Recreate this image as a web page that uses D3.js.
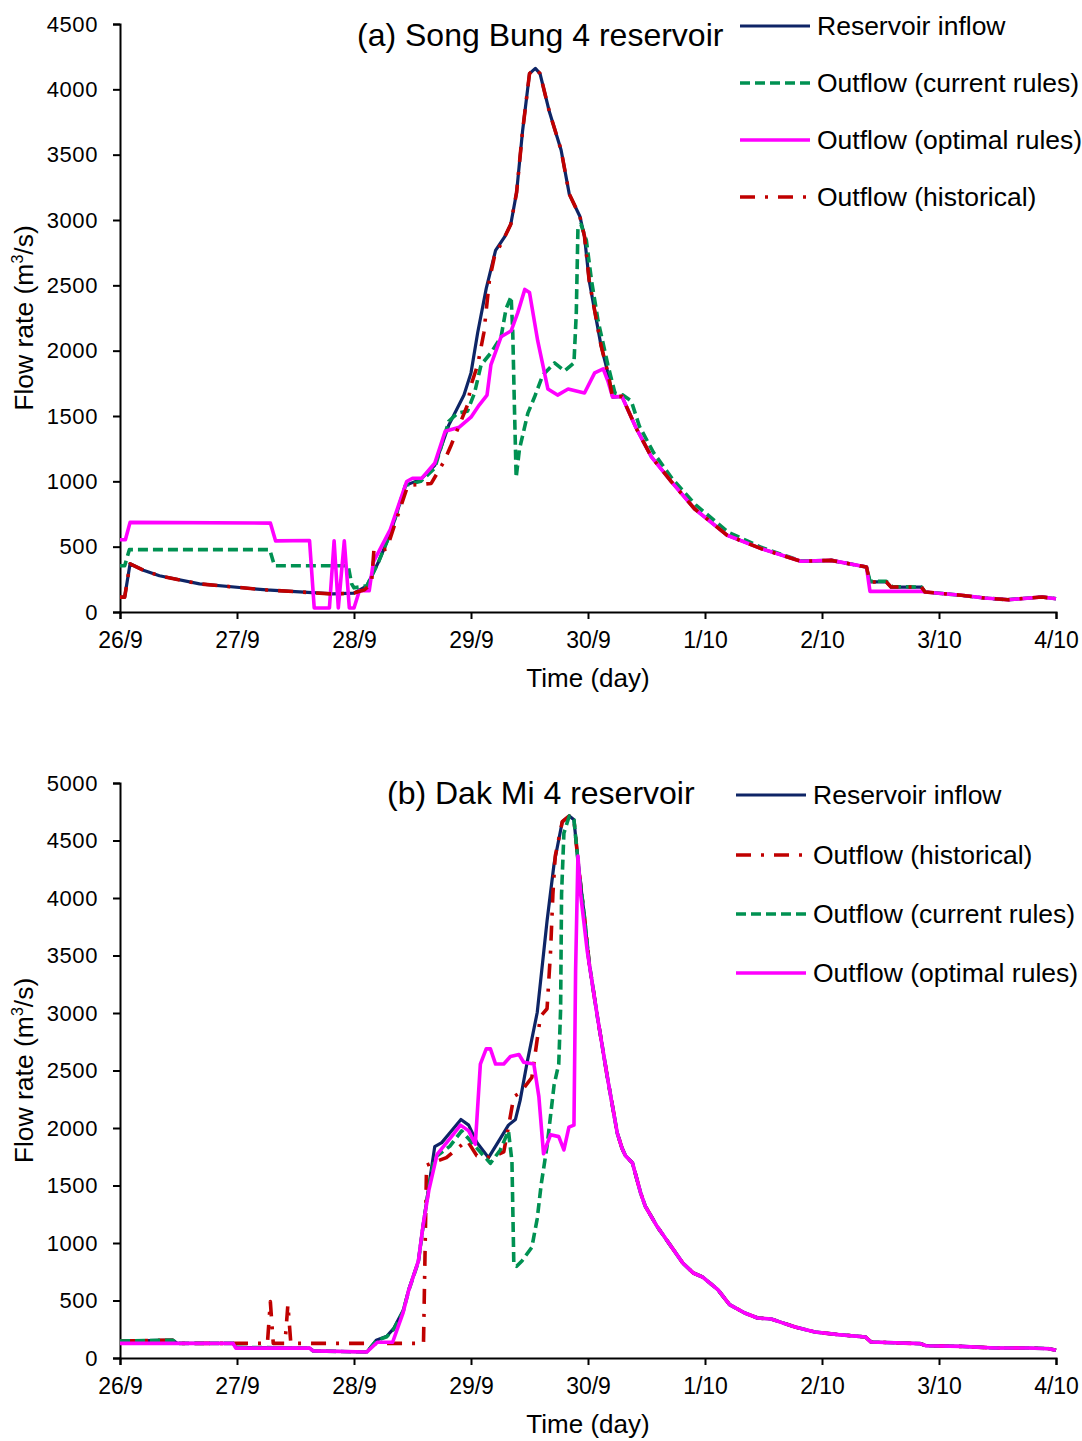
<!DOCTYPE html>
<html><head><meta charset="utf-8">
<script src="https://cdn.jsdelivr.net/npm/d3@7"></script>
<style>
body{margin:0;background:#fff;}
text{font-family:"Liberation Sans",Arial,sans-serif;fill:#000;}
</style></head>
<body><svg id="c" width="1082" height="1441"></svg>
<script>
// ---------- shared ----------
const dayLabels = ["26/9","27/9","28/9","29/9","30/9","1/10","2/10","3/10","4/10"];
const dayTicks = [0,1,2,3,4,5,6,7,8];

// ---------- (a) Song Bung 4 ----------
const sbInflowT = [0,0.04,0.086,0.2,0.337,0.68,1.25,1.82,2.0,2.11,2.21,2.31,2.44,2.57,2.69,2.81,2.94,3.0,3.057,3.13,3.21,3.29,3.34,3.39,3.44,3.5,3.55,3.59,3.67,3.77,3.84,3.93,3.97,4.01,4.06,4.11,4.17,4.21,4.29,4.41,4.54,4.71,4.91,5.19,5.48,5.82,6.08,6.38,6.41,6.55,6.59,6.85,6.88,7.19,7.39,7.59,7.88,8.0];
const sbInflowV = [114,114,369,320,277,215,169,138,145,200,384,600,969,1015,1122,1430,1660,1830,2137,2475,2767,2875,2967,3213,3675,4120,4160,4120,3828,3536,3198,3029,2875,2537,2291,2045,1830,1645,1650,1410,1190,1000,790,587,485,388,395,344,230,230,191,191,153,128,107,94,115,102];

const sbCurT = [0,0.04,0.08,1.28,1.32,1.95,1.98,2.0,2.11,2.21,2.31,2.44,2.57,2.69,2.81,2.886,2.97,3.03,3.086,3.17,3.257,3.3,3.343,3.357,3.37,3.386,3.414,3.486,3.543,3.614,3.714,3.8,3.88,3.9,3.914,3.94,3.986,4.03,4.086,4.17,4.23,4.3,4.37,4.44,4.56,4.72,4.92,5.2,5.48,5.82,6.08,6.38,6.41,6.55,6.6,6.85,6.88,7.19,7.39,7.59,7.88,8.0];
const sbCurV = [354,354,477,477,354,354,215,185,200,384,600,969,1000,1100,1460,1522,1537,1676,1891,1983,2106,2322,2414,2137,1614,1030,1245,1522,1645,1814,1906,1845,1906,2291,2937,2967,2844,2537,2229,1891,1676,1660,1614,1420,1220,1020,820,610,495,390,395,344,235,235,195,191,153,128,107,94,115,102];

const sbOptT = [0,0.046,0.086,1.286,1.33,1.62,1.66,1.79,1.83,1.866,1.917,1.96,2.0,2.046,2.13,2.166,2.31,2.45,2.5,2.58,2.69,2.78,2.9,3.0,3.07,3.137,3.17,3.257,3.343,3.4,3.46,3.5,3.57,3.657,3.74,3.83,3.97,4.057,4.13,4.17,4.21,4.29,4.41,4.54,4.71,4.91,5.19,5.48,5.82,6.08,6.38,6.41,6.85,6.88,7.19,7.39,7.59,7.88,8.0];
const sbOptV = [553,553,686,680,544,547,31,31,544,31,544,31,31,163,163,384,630,999,1024,1024,1138,1384,1414,1491,1584,1660,1891,2106,2152,2291,2469,2445,2076,1707,1660,1707,1676,1830,1860,1768,1645,1650,1410,1190,1000,790,587,485,388,395,344,158,158,153,128,107,94,115,102];

const sbHistT = [0,0.04,0.086,0.2,0.337,0.68,1.25,1.82,2.0,2.09,2.15,2.17,2.28,2.33,2.46,2.66,2.77,2.83,2.9,2.97,3.0,3.057,3.11,3.157,3.2,3.29,3.34,3.39,3.44,3.5,3.55,3.59,3.67,3.77,3.84,3.93,3.97,4.01,4.06,4.11,4.17,4.21,4.29,4.41,4.54,4.71,4.91,5.19,5.48,5.82,6.08,6.38,6.41,6.55,6.59,6.85,6.88,7.19,7.39,7.59,7.88,8.0];
const sbHistV = [114,114,369,320,277,215,169,138,145,170,220,470,480,620,968,984,1153,1276,1430,1584,1737,1891,2137,2537,2720,2875,2967,3213,3675,4120,4160,4120,3828,3536,3198,3029,2875,2537,2291,2045,1830,1645,1650,1410,1190,1000,790,587,485,388,395,344,230,230,191,191,153,128,107,94,115,102];

// ---------- (b) Dak Mi 4 ----------
const dmInflowT = [0,0.45,0.49,0.966,0.99,1.62,1.65,2.11,2.19,2.28,2.34,2.42,2.47,2.55,2.59,2.65,2.69,2.75,2.82,2.914,2.98,3.05,3.15,3.25,3.32,3.38,3.42,3.48,3.566,3.65,3.71,3.78,3.84,3.88,3.92,3.966,4.01,4.08,4.166,4.25,4.29,4.32,4.38,4.45,4.49,4.59,4.65,4.75,4.81,4.9,4.98,5.11,5.21,5.34,5.45,5.566,5.65,5.77,5.94,6.14,6.37,6.42,6.84,6.89,7.19,7.48,7.77,7.94,8.0];
const dmInflowV = [148,155,127,127,93,86,62,52,155,189,258,412,601,842,1151,1564,1838,1873,1959,2074,2025,1875,1742,1908,2025,2074,2240,2572,3004,3800,4298,4663,4713,4680,4265,3867,3435,2970,2439,1957,1826,1759,1696,1435,1319,1145,1058,913,826,739,704,594,464,391,348,339,310,270,226,203,183,139,125,107,101,87,87,81,67];

const dmHistT = [0,0.45,0.49,0.966,0.99,1.26,1.285,1.31,1.41,1.435,1.46,2.594,2.62,2.68,2.79,2.966,3.05,3.166,3.28,3.32,3.366,3.42,3.52,3.566,3.594,3.65,3.68,3.7,3.72,3.78,3.84,3.88,3.92,3.966,4.01,4.08,4.166,4.25,4.29,4.32,4.38,4.45,4.49,4.59,4.65,4.75,4.81,4.9,4.98,5.11,5.21,5.34,5.45,5.566,5.65,5.77,5.94,6.14,6.37,6.42,6.84,6.89,7.19,7.48,7.77,7.94,8.0];
const dmHistV = [148,155,127,127,127,127,490,127,127,465,127,127,1676,1701,1742,1892,1759,1742,1792,2008,2273,2307,2439,2771,2970,3037,3535,4033,4364,4663,4713,4680,4265,3867,3435,2970,2439,1957,1826,1759,1696,1435,1319,1145,1058,913,826,739,704,594,464,391,348,339,310,270,226,203,183,139,125,107,101,87,87,81,67];

const dmCurT = [0,0.45,0.49,0.966,0.99,1.62,1.65,2.11,2.19,2.28,2.34,2.42,2.47,2.55,2.59,2.65,2.69,2.82,2.92,3.05,3.166,3.25,3.32,3.35,3.366,3.39,3.437,3.52,3.566,3.6,3.65,3.71,3.75,3.766,3.774,3.794,3.84,3.88,3.92,3.966,4.01,4.08,4.166,4.25,4.29,4.32,4.38,4.45,4.49,4.59,4.65,4.75,4.81,4.9,4.98,5.11,5.21,5.34,5.45,5.566,5.65,5.77,5.94,6.14,6.37,6.42,6.84,6.89,7.19,7.48,7.77,7.94,8.0];
const dmCurV = [148,155,127,127,93,86,62,52,150,185,250,405,595,835,1140,1550,1742,1842,1975,1825,1693,1809,1975,1709,813,797,846,963,1211,1510,1842,2373,2556,3037,4033,4564,4713,4680,4265,3867,3435,2970,2439,1957,1826,1759,1696,1435,1319,1145,1058,913,826,739,704,594,464,391,348,339,310,270,226,203,183,139,125,107,101,87,87,81,67];

const dmOptT = [0,0.966,0.99,1.62,1.65,2.11,2.2,2.33,2.42,2.466,2.55,2.59,2.64,2.71,2.82,2.91,2.98,3.037,3.08,3.13,3.166,3.21,3.28,3.337,3.41,3.45,3.537,3.58,3.62,3.68,3.75,3.794,3.837,3.88,3.894,3.914,3.937,3.994,4.08,4.166,4.25,4.29,4.32,4.38,4.45,4.49,4.59,4.65,4.75,4.81,4.9,4.98,5.11,5.21,5.34,5.45,5.566,5.65,5.77,5.94,6.14,6.37,6.42,6.84,6.89,7.19,7.48,7.77,7.94,8.0];
const dmOptV = [127,127,86,86,62,52,137,137,395,584,842,1151,1460,1770,1908,2025,1975,1859,2556,2688,2688,2556,2556,2622,2639,2572,2556,2273,1776,1942,1925,1809,2008,2025,3369,4364,4033,3535,2970,2439,1957,1826,1759,1696,1435,1319,1145,1058,913,826,739,704,594,464,391,348,339,310,270,226,203,183,139,125,107,101,87,87,81,67];

// ---------- styles ----------
const STY = {
  inflow: {color:"#0e2566", width:3.2, dash:null, label:"Reservoir inflow"},
  cur:    {color:"#009152", width:3.6, dash:"10,5", label:"Outflow (current rules)"},
  opt:    {color:"#ff00ff", width:3.6, dash:null, label:"Outflow (optimal rules)"},
  hist:   {color:"#c00000", width:3.6, dash:"15,10,3,10", label:"Outflow (historical)"}
};

const svg = d3.select("#c");

function panel(cfg){
  const x = d3.scaleLinear().domain([0,8]).range([120,1056]);
  const y = d3.scaleLinear().domain([0,cfg.ymax]).range([cfg.y0,cfg.y1]);
  const g = svg.append("g");

  const ya = d3.axisLeft(y).tickValues(d3.range(0,cfg.ymax+1,500)).tickSize(7).tickPadding(15).tickFormat(d3.format("d"));
  const gy = g.append("g").attr("transform","translate(120,0)").call(ya);
  const xa = d3.axisBottom(x).tickValues(dayTicks).tickSize(7).tickPadding(13).tickFormat((d,i)=>dayLabels[i]);
  const gx = g.append("g").attr("transform",`translate(0,${cfg.y0})`).call(xa);
  [gx,gy].forEach(a=>{
    a.selectAll("path.domain").attr("stroke","#000").attr("stroke-width",2);
    a.selectAll(".tick line").attr("stroke","#000").attr("stroke-width",2);
    a.selectAll("text").attr("font-family","Liberation Sans, Arial, sans-serif").attr("fill","#000");
  });
  gy.selectAll("text").attr("font-size",22).attr("letter-spacing",0.6);
  gx.selectAll("text").attr("font-size",23);

  const line = d3.line().x(d=>x(d[0])).y(d=>y(d[1]));
  cfg.order.forEach(k=>{
    const s = cfg.series[k]; const st = STY[k];
    const data = s[0].map((t,i)=>[t,s[1][i]]);
    g.append("path").datum(data).attr("d",line)
      .attr("fill","none").attr("stroke",st.color).attr("stroke-width",st.width)
      .attr("stroke-linejoin","round")
      .attr("stroke-dasharray",st.dash);
  });

  // axis titles
  g.append("text").attr("x",588).attr("y",cfg.y0+75).attr("text-anchor","middle").attr("font-size",26).text("Time (day)");
  const yt = g.append("text").attr("transform",`translate(33,${(cfg.y0+cfg.y1)/2}) rotate(-90)`).attr("text-anchor","middle").attr("font-size",26.5);
  yt.append("tspan").text("Flow rate (m");
  yt.append("tspan").attr("font-size",16).attr("dy",-10).text("3");
  yt.append("tspan").attr("dy",10).text("/s)");

  // title
  g.append("text").attr("x",cfg.titleX).attr("y",cfg.titleY).attr("font-size",32).attr("dy","0.35em").text(cfg.title);

  // legend
  cfg.legend.forEach((k,i)=>{
    const st = STY[k]; const yy = cfg.legY[i];
    g.append("line").attr("x1",cfg.legX).attr("x2",cfg.legX+70).attr("y1",yy).attr("y2",yy)
      .attr("stroke",st.color).attr("stroke-width",st.width).attr("stroke-dasharray",st.dash);
    g.append("text").attr("x",cfg.legX+77).attr("y",yy).attr("dy","0.35em").attr("font-size",26.5).text(st.label);
  });
}

panel({ymax:4500,y0:612,y1:24,title:"(a) Song Bung 4 reservoir",titleX:357,titleY:35,
  series:{inflow:[sbInflowT,sbInflowV],cur:[sbCurT,sbCurV],opt:[sbOptT,sbOptV],hist:[sbHistT,sbHistV]},
  order:["inflow","cur","opt","hist"],
  legend:["inflow","cur","opt","hist"],legX:740,legY:[26,83,140,197]});

panel({ymax:5000,y0:1358,y1:783,title:"(b) Dak Mi 4 reservoir",titleX:387,titleY:793,
  series:{inflow:[dmInflowT,dmInflowV],hist:[dmHistT,dmHistV],cur:[dmCurT,dmCurV],opt:[dmOptT,dmOptV]},
  order:["inflow","hist","cur","opt"],
  legend:["inflow","hist","cur","opt"],legX:736,legY:[795,855,914,973]});
</script></body></html>
